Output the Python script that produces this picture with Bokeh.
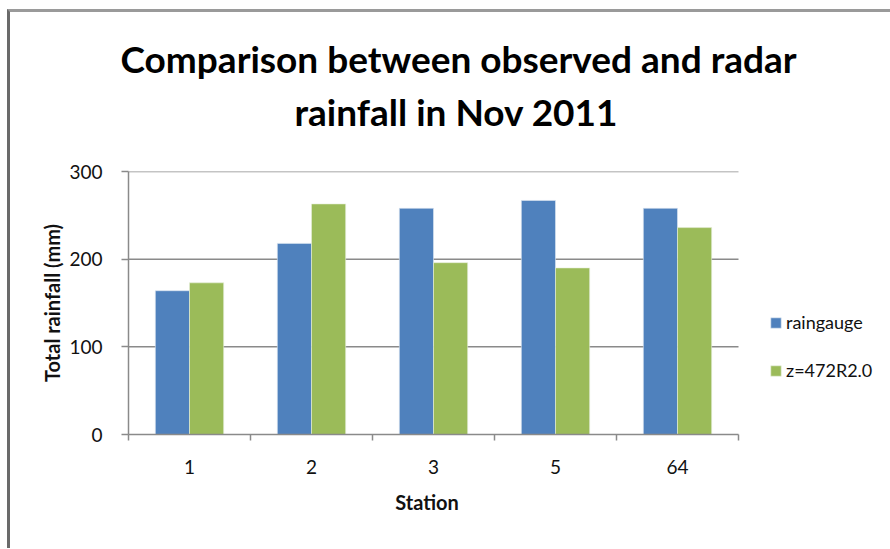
from bokeh.plotting import figure
from bokeh.models import (FixedTicker, Title, Legend, LegendItem, ColumnDataSource, Range1d)
from bokeh.transform import dodge
from bokeh.embed import file_html
from bokeh.resources import INLINE

# ---- data ----
stations = ["1", "2", "3", "5", "64"]
raingauge = [164, 218, 258, 267, 258]
radar = [173, 263, 196, 190, 236]
y_ticks = [0, 100, 200, 300]
series_names = ["raingauge", "z=472R2.0"]
title_lines = ["Comparison between observed and radar", "rainfall in Nov 2011"]
x_label = "Station"
y_label = "Total rainfall (mm)"

BLUE = "#4F81BD"
GREEN = "#9BBB59"
GRID = "#8a8a8a"
FONT = "Lato"

# layout (pixels)
FRAME_W = 762        # frame runs to the right edge so the legend can sit inside it
CAT_SPAN = 610       # pixel width occupied by the categories
n = len(stations)
pos = [i + 0.5 for i in range(n)]
src = ColumnDataSource(dict(x=pos, a=raingauge, b=radar, st=stations))
grid_src = ColumnDataSource(dict(y=y_ticks[1:], x0=[0] * (len(y_ticks) - 1),
                                 x1=[n] * (len(y_ticks) - 1)))

p = figure(frame_width=FRAME_W, frame_height=263, output_backend="svg",
           toolbar_location=None,
           x_range=Range1d(0, n * FRAME_W / CAT_SPAN), y_range=Range1d(0, 300),
           min_border_left=118, min_border_right=0, min_border_top=0,
           min_border_bottom=114)
p.styles = {"margin-left": "7px", "margin-top": "9px",
            "border-left": "3px solid #6a6a6a", "border-top": "3px solid #9a9a9a"}
p.outline_line_color = None
p.background_fill_color = "white"
p.border_fill_color = "white"

# horizontal gridlines, limited to the category span
p.xgrid.grid_line_color = None
p.ygrid.grid_line_color = None
p.segment(x0="x0", x1="x1", y0="y", y1="y", source=grid_src,
          line_color=GRID, line_width=1.5)

r1 = p.vbar(x=dodge("x", -0.14), top="a", width=0.28, source=src,
            fill_color=BLUE, line_color="#dfe7f1", line_width=0.6)
r2 = p.vbar(x=dodge("x", 0.14), top="b", width=0.28, source=src,
            fill_color=GREEN, line_color="#e6eedb", line_width=0.6)

# x axis: labels at centres, tick marks at category boundaries
xa = p.xaxis[0]
xa.bounds = (0, n)
xa.ticker = FixedTicker(ticks=pos, minor_ticks=list(range(n + 1)))
xa.major_label_overrides = {v: s for v, s in zip(pos, stations)}
xa.major_tick_out = 0
xa.major_tick_in = 0
xa.minor_tick_out = 6
xa.minor_tick_in = 0
xa.minor_tick_line_color = GRID
xa.minor_tick_line_width = 1.5
xa.axis_line_color = GRID
xa.axis_line_width = 1.5
xa.major_label_text_font = FONT
xa.major_label_text_font_size = "19px"
xa.major_label_text_color = "#111111"
xa.major_label_standoff = 19
# trailing em-spaces keep the label centred under the categories, not the wider frame
xa.axis_label = x_label + "\u2003" * 11
xa.axis_label_text_font = FONT
xa.axis_label_text_font_size = "20px"
xa.axis_label_text_font_style = "bold"
xa.axis_label_text_color = "#111111"
xa.axis_label_standoff = 13

ya = p.yaxis[0]
ya.ticker = FixedTicker(ticks=y_ticks, minor_ticks=[])
ya.major_tick_out = 7
ya.major_tick_in = 0
ya.major_tick_line_color = GRID
ya.major_tick_line_width = 1.5
ya.axis_line_color = GRID
ya.axis_line_width = 1.5
ya.major_label_text_font = FONT
ya.major_label_text_font_size = "19px"
ya.major_label_text_color = "#111111"
ya.major_label_standoff = 19
ya.axis_label = y_label
ya.axis_label_text_font = FONT
ya.axis_label_text_font_size = "20px"
ya.axis_label_text_font_style = "bold"
ya.axis_label_text_color = "#111111"
ya.axis_label_standoff = 2

# title: stacked from the frame upward (first added sits nearest the frame)
p.add_layout(Title(text=" ", text_font_size="10px", standoff=25), "above")
p.add_layout(Title(text=title_lines[1], align="left", offset=166, text_font=FONT,
                   text_font_style="bold", text_font_size="37px",
                   text_color="black", standoff=0), "above")
p.add_layout(Title(text=title_lines[0], align="left", offset=-8, text_font=FONT,
                   text_font_style="bold", text_font_size="37px",
                   text_color="black", standoff=12), "above")
p.add_layout(Title(text=" ", text_font_size="10px", standoff=2), "above")

legend = Legend(items=[LegendItem(label=series_names[0], renderers=[r1]),
                       LegendItem(label=series_names[1], renderers=[r2])],
                location=(641, 53), orientation="vertical",
                glyph_width=13, glyph_height=13, label_height=20, spacing=26,
                padding=0, margin=0, label_standoff=4,
                label_text_font=FONT, label_text_font_size="18px",
                label_text_color="#111111",
                border_line_color=None, background_fill_alpha=0)
p.add_layout(legend, "center")

open("out.html", "w").write(file_html(p, INLINE))
